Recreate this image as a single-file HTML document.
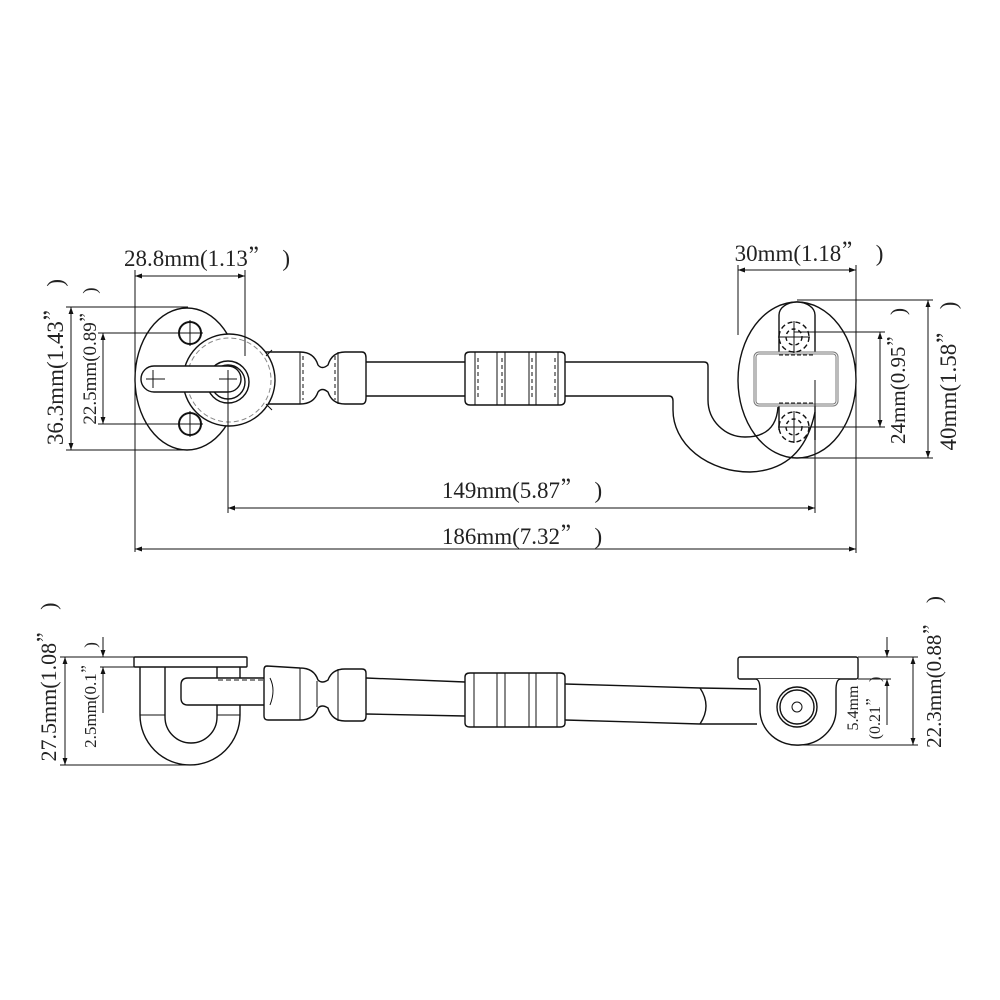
<!DOCTYPE html>
<html><head><meta charset="utf-8"><style>
html,body{margin:0;padding:0;background:#fff;}
svg{display:block;}
text{font-family:"Liberation Serif",serif;fill:#222;white-space:pre;}
.q{font-family:"Noto Serif CJK SC","Noto Sans CJK SC",serif;}
</style></head><body>
<svg width="1000" height="1000" viewBox="0 0 1000 1000" xmlns="http://www.w3.org/2000/svg">
<defs>
<marker id="a" viewBox="0 0 10 10" refX="10" refY="5" markerWidth="9" markerHeight="7" orient="auto-start-reverse" markerUnits="userSpaceOnUse"><path d="M0,1.5 L10,5 L0,8.5z" fill="#111"/></marker>
</defs>
<g fill="none" stroke="#111" stroke-width="1.4">
<ellipse cx="187" cy="379" rx="52" ry="71" fill="#fff"/>
<circle cx="190" cy="333" r="11" stroke-width="2"/>
<circle cx="190" cy="424" r="11" stroke-width="2"/>
<path d="M190,320V346M177,333H203M190,411V437M177,424H203" stroke-width="1"/>
<path d="M262,352 H300 Q314,352 318,365 Q322,370 328,365 Q332,352 345,352 H362 Q366,352 366,358 V398 Q366,404 362,404 H345 Q332,404 328,392 Q322,387 318,392 Q314,404 300,404 H262 Z" fill="#fff"/>
<path d="M300,352V404M338,352V404" stroke-width="1"/>
<path d="M303,356V400M335,356V400" stroke-width="1" stroke-dasharray="4 3"/>
<circle cx="229" cy="380" r="46" fill="#fff"/>
<circle cx="229" cy="380" r="42" stroke="#888" stroke-width="1" stroke-dasharray="5 3"/>
<path d="M266,356 L272,350 M266,404 L272,410" stroke-width="1"/>
<circle cx="228" cy="382" r="21" fill="#fff"/>
<circle cx="228" cy="382" r="17"/>
<path d="M154,366 H228 A13,13 0 0 1 228,392 H154 A13,13 0 0 1 154,366 Z" fill="#fff"/>
<path d="M153,370V388M146,379H165M228,370V388M219,379H237" stroke-width="1"/>
<path d="M366,362 H465 M366,396 H465" />
<path d="M465,356 Q465,352 470,352 H560 Q565,352 565,356 V400 Q565,405 560,405 H470 Q465,405 465,400 Z" fill="#fff"/>
<path d="M475,352V405M497,352V405M505,352V405M529,352V405M536,352V405M558,352V405" stroke-width="1"/>
<path d="M478,358V400M502,358V400M532,358V400M555,358V400" stroke-width="1" stroke-dasharray="4 3"/>
<path d="M565,362 H704 Q708,362 708,366 V400 A37,37 0 0 0 745,437 Q776,437 778,407"/>
<path d="M565,396 H669 Q673,396 673,401 V410 A77,62 0 0 0 750,472 Q803,470 815,412"/>
<ellipse cx="797" cy="380" rx="59" ry="78"/>
<path d="M779,355 V315 A18,13 0 0 1 815,315 V355" fill="#fff"/>
<path d="M779,405 V430 M815,405 V440"/>
<rect x="755" y="353" width="82" height="52" rx="4" stroke="#777" stroke-width="3" fill="#fff"/>
<rect x="755" y="353" width="82" height="52" rx="4" stroke="#fff" stroke-width="1"/>
<path d="M779,355 H815 M779,403 H815" stroke-width="1" stroke-dasharray="4 2"/>
<circle cx="794" cy="337" r="15" stroke-dasharray="5 3"/>
<circle cx="794" cy="337" r="8" stroke-dasharray="4 3"/>
<path d="M794,321V353M778,337H810" stroke-width="1"/>
<circle cx="794" cy="427" r="15" stroke-dasharray="5 3"/>
<circle cx="794" cy="427" r="8" stroke-dasharray="4 3"/>
<path d="M794,411V443M778,427H810" stroke-width="1"/>
</g>
<g fill="none" stroke="#111" stroke-width="1">
<path d="M135,270V552 M245,270V356 M738,265V335 M856,265V553"/>
<line x1="135" y1="276" x2="245" y2="276" marker-start="url(#a)" marker-end="url(#a)"/>
<line x1="738" y1="270" x2="856" y2="270" marker-start="url(#a)" marker-end="url(#a)"/>
<path d="M66,307H188 M66,450H188 M98,333H190 M98,424H190"/>
<line x1="71" y1="307" x2="71" y2="450" marker-start="url(#a)" marker-end="url(#a)"/>
<line x1="103" y1="333" x2="103" y2="424" marker-start="url(#a)" marker-end="url(#a)"/>
<path d="M794,332H885 M794,427H885 M797,300H933 M797,458H933"/>
<line x1="880" y1="332" x2="880" y2="427" marker-start="url(#a)" marker-end="url(#a)"/>
<line x1="928" y1="300" x2="928" y2="458" marker-start="url(#a)" marker-end="url(#a)"/>
<path d="M228,385V513 M815,380V513"/>
<line x1="228" y1="508" x2="815" y2="508" marker-start="url(#a)" marker-end="url(#a)"/>
<line x1="135" y1="549" x2="856" y2="549" marker-start="url(#a)" marker-end="url(#a)"/>
</g>
<text x="207" y="266" font-size="23" text-anchor="middle">28.8mm(1.13<tspan class="q">”</tspan>  )</text>
<text x="809" y="261" font-size="23" text-anchor="middle">30mm(1.18<tspan class="q">”</tspan>  )</text>
<text x="522" y="498" font-size="23" text-anchor="middle">149mm(5.87<tspan class="q">”</tspan>  )</text>
<text x="522" y="544" font-size="23" text-anchor="middle">186mm(7.32<tspan class="q">”</tspan>  )</text>
<text transform="translate(63,362) rotate(-90)" font-size="23" text-anchor="middle">36.3mm(1.43<tspan class="q">”</tspan>  )</text>
<text transform="translate(96,356) rotate(-90)" font-size="19" text-anchor="middle">22.5mm(0.89<tspan class="q">”</tspan>  )</text>
<text transform="translate(905,376) rotate(-90)" font-size="21" text-anchor="middle">24mm(0.95<tspan class="q">”</tspan>  )</text>
<text transform="translate(956,376) rotate(-90)" font-size="23" text-anchor="middle">40mm(1.58<tspan class="q">”</tspan>  )</text>

<g fill="none" stroke="#111" stroke-width="1.4">
<rect x="134" y="657" width="113" height="10" rx="1" fill="#fff"/>
<path d="M140,667 V715 A50,50 0 0 0 240,715 V667"/>
<path d="M165,667 V717 A26,26 0 0 0 217,717 V667"/>
<path d="M140,715 H165 M217,715 H240" stroke-width="1"/>
<path d="M270,678 H188 Q181,678 181,685 V698 Q181,705 188,705 H270" fill="#fff"/>
<path d="M218,680 H268" stroke-width="1" stroke-dasharray="5 3"/>
<path d="M267,666 Q264,666 264,670 V716 Q264,720 268,720 H300 Q314,720 318,708 Q322,704 328,708 Q332,721 345,721 H362 Q366,721 366,716 V673 Q366,669 362,669 H345 Q332,669 328,680 Q322,684 318,680 Q314,668 300,668 Z" fill="#fff"/>
<path d="M300,668V720M338,669V721M317,681V707" stroke-width="1"/>
<path d="M270,678 Q276,690 270,705" stroke-width="1"/>
<path d="M366,678 L465,682 M366,714 L465,716"/>
<path d="M465,677 Q465,673 470,673 H560 Q565,673 565,677 V723 Q565,727 560,727 H470 Q465,727 465,723 Z" fill="#fff"/>
<path d="M474,673V727M497,673V727M505,673V727M529,673V727M536,673V727M557,673V727" stroke-width="1"/>
<path d="M565,684 L700,688 M565,720 L700,724"/>
<path d="M700,688 Q712,706 700,724"/>
<path d="M700,688 L757,689 M700,724 L757,724"/>
<rect x="738" y="657" width="120" height="22" rx="2" fill="#fff"/>
<path d="M756,679 Q760,680 760,690 V710 A37,35 0 0 0 800,745 A37,35 0 0 0 836,710 V690 Q836,680 840,679" fill="#fff"/>
<circle cx="797" cy="707" r="20"/>
<circle cx="797" cy="707" r="17"/>
<circle cx="797" cy="707" r="5" stroke-width="1"/>
</g>
<g fill="none" stroke="#111" stroke-width="1">
<path d="M60,657H135 M60,765H190 M100,667H134"/>
<line x1="65" y1="657" x2="65" y2="765" marker-start="url(#a)" marker-end="url(#a)"/>
<line x1="103" y1="637" x2="103" y2="657" marker-end="url(#a)"/>
<line x1="103" y1="713" x2="103" y2="667" marker-end="url(#a)"/>
<path d="M858,657H918 M800,745H918 M858,679H891"/>
<line x1="913" y1="657" x2="913" y2="745" marker-start="url(#a)" marker-end="url(#a)"/>
<line x1="887" y1="637" x2="887" y2="657" marker-end="url(#a)"/>
<line x1="887" y1="725" x2="887" y2="679" marker-end="url(#a)"/>
</g>
<text transform="translate(56,682) rotate(-90)" font-size="22" text-anchor="middle">27.5mm(1.08<tspan class="q">”</tspan>  )</text>
<text transform="translate(96,695) rotate(-90)" font-size="17" text-anchor="middle">2.5mm(0.1<tspan class="q">”</tspan>  )</text>
<text transform="translate(858,708) rotate(-90)" font-size="16" text-anchor="middle">5.4mm</text>
<text transform="translate(880,708) rotate(-90)" font-size="16" text-anchor="middle">(0.21<tspan class="q">”</tspan>  )</text>
<text transform="translate(941,672) rotate(-90)" font-size="21" text-anchor="middle">22.3mm(0.88<tspan class="q">”</tspan>  )</text>
</svg>
</body></html>
